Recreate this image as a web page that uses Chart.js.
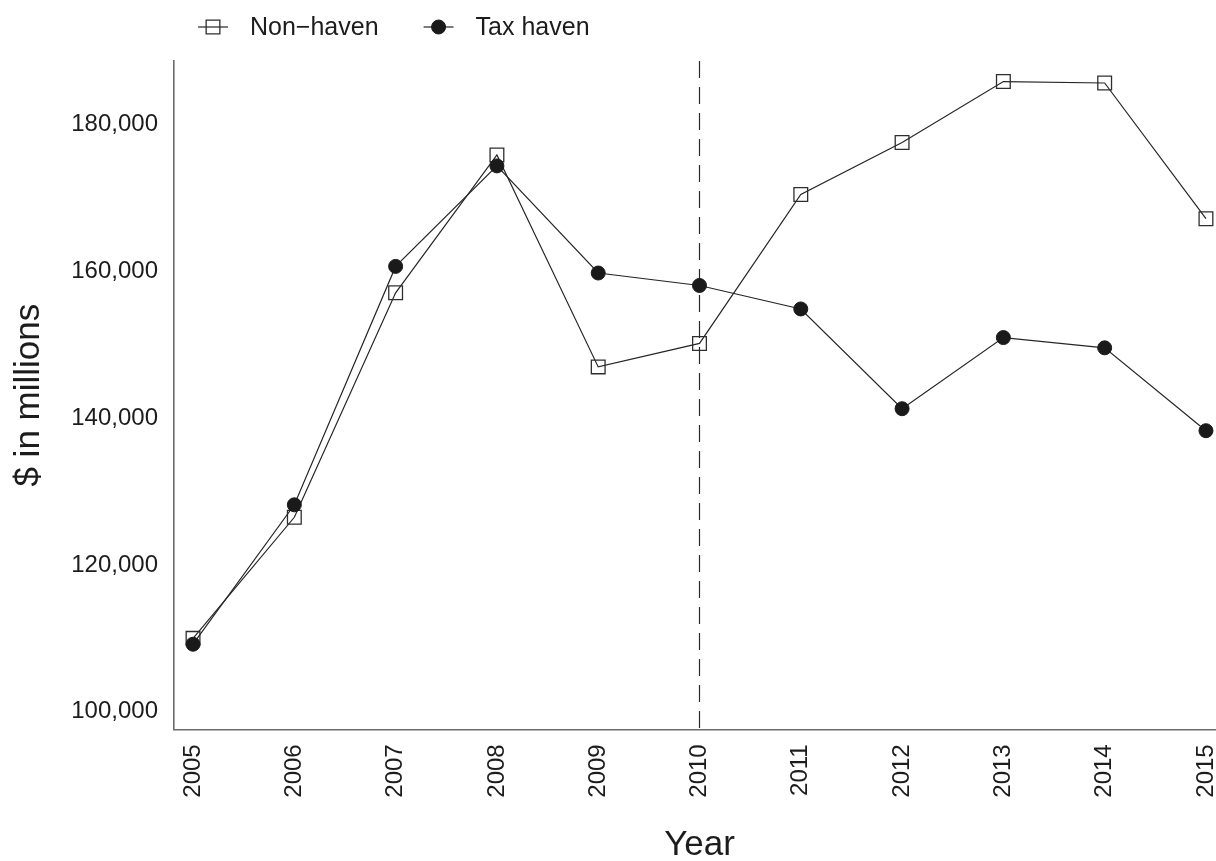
<!DOCTYPE html>
<html>
<head>
<meta charset="utf-8">
<script src="https://cdn.jsdelivr.net/npm/chart.js@4/dist/chart.umd.min.js"></script>
<style>
  html, body { margin: 0; padding: 0; background: #fff; overflow: hidden; width: 1216px; height: 861px; }
  canvas { display: block; }
</style>
</head>
<body>
<canvas id="c" width="1236" height="868"></canvas>
<script>
// Years on the horizontal axis
const years = [2005, 2006, 2007, 2008, 2009, 2010, 2011, 2012, 2013, 2014, 2015];
// Values in $ millions
const nonHaven = [110000, 126500, 157100, 175900, 147000, 150200, 170500, 177600, 185900, 185700, 167200];
const taxHaven = [109200, 128200, 160700, 174400, 159800, 158100, 154900, 141300, 151000, 149600, 138300];
// Vertical axis tick values
const yTicks = [100000, 120000, 140000, 160000, 180000];
// Year marked with the dashed reference line
const markerYear = 2010;
const seriesLabels = ['Non\u2212haven', 'Tax haven'];

const FONT = '"Liberation Sans", Arial, Helvetica, sans-serif';
const INK = '#1c1c1c';
const LINE = '#262626';
const AXIS = '#6c6c6c';

function drawMarker(ctx, ds, x, y) {
  const r = ds.pointRadius;
  ctx.save();
  ctx.lineWidth = ds.pointBorderWidth;
  ctx.strokeStyle = ds.pointBorderColor;
  ctx.fillStyle = ds.pointBackgroundColor;
  ctx.beginPath();
  if (ds.pointStyle === 'rect') {
    const s = Math.SQRT1_2 * r;
    ctx.rect(x - s, y - s, 2 * s, 2 * s);
  } else {
    ctx.arc(x, y, r, 0, Math.PI * 2);
  }
  ctx.fill();
  ctx.stroke();
  ctx.restore();
}

// Legend row: line segment with marker, then label
const legendRow = {
  id: 'legendRow',
  afterDraw(chart) {
    const ctx = chart.ctx;
    let x = chart.chartArea.left + 24;
    const yMid = 27, yBase = 35;
    ctx.save();
    ctx.font = '25px ' + FONT;
    chart.data.datasets.forEach(ds => {
      ctx.strokeStyle = ds.borderColor;
      ctx.lineWidth = ds.borderWidth;
      ctx.beginPath();
      ctx.moveTo(x, yMid);
      ctx.lineTo(x + 30, yMid);
      ctx.stroke();
      drawMarker(ctx, ds, x + 15, yMid);
      ctx.fillStyle = INK;
      ctx.textAlign = 'left';
      ctx.textBaseline = 'alphabetic';
      ctx.fillText(ds.label, x + 52, yBase);
      x += 52 + ctx.measureText(ds.label).width + 45;
    });
    ctx.restore();
  }
};

// Dashed vertical line at the marked year
const yearLine = {
  id: 'yearLine',
  beforeDatasetsDraw(chart) {
    const {ctx, chartArea, scales} = chart;
    const px = scales.x.getPixelForValue(markerYear);
    ctx.save();
    ctx.strokeStyle = '#2a2a2a';
    ctx.lineWidth = 1.2;
    ctx.setLineDash([17, 9]);
    ctx.beginPath();
    ctx.moveTo(px, chartArea.top);
    ctx.lineTo(px, chartArea.bottom);
    ctx.stroke();
    ctx.restore();
  }
};

const toPoints = vals => years.map((yr, i) => ({x: yr, y: vals[i]}));

new Chart(document.getElementById('c'), {
  type: 'line',
  data: {
    datasets: [
      {
        label: seriesLabels[0],
        data: toPoints(nonHaven),
        order: 2,
        borderColor: LINE,
        borderWidth: 1.2,
        pointStyle: 'rect',
        pointRadius: 9.7,
        pointBorderWidth: 1.3,
        pointBorderColor: '#2e2e2e',
        pointBackgroundColor: 'rgba(255,255,255,0)',
        tension: 0,
        fill: false
      },
      {
        label: seriesLabels[1],
        data: toPoints(taxHaven),
        order: 1,
        borderColor: LINE,
        borderWidth: 1.2,
        pointStyle: 'circle',
        pointRadius: 7,
        pointBorderWidth: 1,
        pointBorderColor: '#1a1a1a',
        pointBackgroundColor: '#1a1a1a',
        tension: 0,
        fill: false
      }
    ]
  },
  options: {
    responsive: false,
    animation: false,
    events: [],
    layout: { padding: { top: 61, left: 0, right: 0, bottom: 0 } },
    plugins: {
      legend: { display: false },
      tooltip: { enabled: false },
      title: { display: false }
    },
    scales: {
      x: {
        type: 'linear',
        min: 2004.812,
        max: 2015.188,
        grid: { display: false, drawTicks: false },
        border: { display: true, color: AXIS, width: 1.6 },
        afterBuildTicks: s => { s.ticks = years.map(v => ({value: v})); },
        afterFit: s => { s.height = 868 - 729.3; s.paddingLeft = 0; s.paddingRight = 0; },
        ticks: {
          autoSkip: false,
          minRotation: 90,
          maxRotation: 90,
          padding: 15,
          color: INK,
          font: { family: FONT, size: 24 },
          callback: v => String(v)
        },
        title: {
          display: true,
          text: 'Year',
          color: INK,
          font: { family: FONT, size: 35, lineHeight: 1 },
          padding: { top: 0, bottom: 5 }
        }
      },
      y: {
        type: 'linear',
        min: 97600,
        max: 188700,
        grid: { display: false, drawTicks: false },
        border: { display: true, color: AXIS, width: 1.6 },
        afterBuildTicks: s => { s.ticks = yTicks.map(v => ({value: v})); },
        afterFit: s => { s.width = 174; s.paddingTop = 0; s.paddingBottom = 0; },
        ticks: {
          padding: 16,
          color: INK,
          font: { family: FONT, size: 24 },
          callback: v => v.toLocaleString('en-US')
        },
        title: {
          display: true,
          text: '$ in millions',
          color: INK,
          font: { family: FONT, size: 35, lineHeight: 1.2 },
          padding: { top: 8, bottom: 0 }
        }
      }
    }
  },
  plugins: [yearLine, legendRow]
});
</script>
</body>
</html>
